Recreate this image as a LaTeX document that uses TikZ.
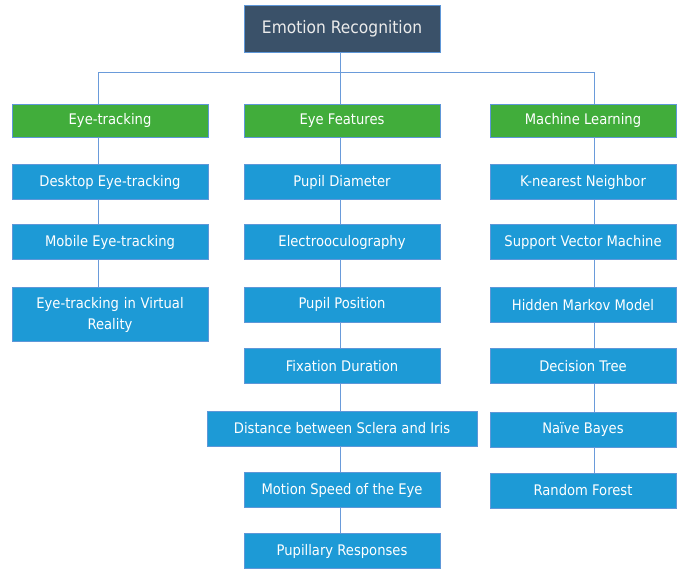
\documentclass[tikz,border=0pt]{standalone}
\usepackage{fontspec}
\setmainfont[FakeStretch=0.9]{DejaVu Sans}
\definecolor{titlefill}{HTML}{3A5169}
\definecolor{greenfill}{HTML}{41AD3B}
\definecolor{bluefill}{HTML}{1D9AD6}
\definecolor{edgeblue}{HTML}{5E97D8}
\definecolor{linkblue}{HTML}{6A9BDA}
\begin{document}
\begin{tikzpicture}[x=1pt,y=-1pt,
  box/.style={draw=edgeblue,line width=0.8pt,inner sep=0pt,text=white,align=center,font=\fontsize{14.6}{21}\selectfont},
  titlebox/.style={box,fill=titlefill,minimum width=196pt,minimum height=47pt,font=\fontsize{17.2}{20}\selectfont,text=white!92!black},
  greenbox/.style={box,fill=greenfill,minimum height=33pt},
  bluebox/.style={box,fill=bluefill,minimum height=35pt},
  link/.style={draw=linkblue,line width=0.9pt}]
\useasboundingbox (0,0) rectangle (677,571);
% title
\node[titlebox] (root) at (342,28.5) {Emotion Recognition};
% headers
\node[greenbox,minimum width=196pt] (h1) at (110,120.5) {Eye-tracking};
\node[greenbox,minimum width=196pt] (h2) at (342,120.5) {Eye Features};
\node[greenbox,minimum width=186pt] (h3) at (583,120.5) {Machine Learning};
% column 1
\node[bluebox,minimum width=196pt] (a1) at (110,182) {Desktop Eye-tracking};
\node[bluebox,minimum width=196pt] (a2) at (110,242) {Mobile Eye-tracking};
\node[bluebox,minimum width=196pt,minimum height=54pt,text width=190pt] (a3) at (110,314.5) {Eye-tracking in Virtual\\Reality};
% column 2
\node[bluebox,minimum width=196pt] (b1) at (342,182) {Pupil Diameter};
\node[bluebox,minimum width=196pt] (b2) at (342,242) {Electrooculography};
\node[bluebox,minimum width=196pt] (b3) at (342,304.5) {Pupil Position};
\node[bluebox,minimum width=196pt] (b4) at (342,366) {Fixation Duration};
\node[bluebox,minimum width=270pt] (b5) at (342,428.5) {Distance between Sclera and Iris};
\node[bluebox,minimum width=196pt] (b6) at (342,490) {Motion Speed of the Eye};
\node[bluebox,minimum width=196pt] (b7) at (342,551) {Pupillary Responses};
% column 3
\node[bluebox,minimum width=186pt] (c1) at (583,182) {K-nearest Neighbor};
\node[bluebox,minimum width=186pt] (c2) at (583,242) {Support Vector Machine};
\node[bluebox,minimum width=186pt] (c3) at (583,305) {Hidden Markov Model};
\node[bluebox,minimum width=186pt] (c4) at (583,366) {Decision Tree};
\node[bluebox,minimum width=186pt] (c5) at (583,429.5) {Naïve Bayes};
\node[bluebox,minimum width=186pt] (c6) at (583,490.5) {Random Forest};
% connector guides
\coordinate (bl) at (98,72);
\coordinate (bm) at (340,72);
\coordinate (br) at (594,72);
\path[link] (root.south -| bm) -- (bm);
\path[link] (bl) -- (br);
\path[link] (bl) -- (h1.north -| bl);
\path[link] (bm) -- (h2.north -| bm);
\path[link] (br) -- (h3.north -| br);
\path[link] (h1.south -| bl) -- (a1.north -| bl);
\path[link] (a1.south -| bl) -- (a2.north -| bl);
\path[link] (a2.south -| bl) -- (a3.north -| bl);
\path[link] (h2.south -| bm) -- (b1.north -| bm);
\path[link] (b1.south -| bm) -- (b2.north -| bm);
\path[link] (b2.south -| bm) -- (b3.north -| bm);
\path[link] (b3.south -| bm) -- (b4.north -| bm);
\path[link] (b4.south -| bm) -- (b5.north -| bm);
\path[link] (b5.south -| bm) -- (b6.north -| bm);
\path[link] (b6.south -| bm) -- (b7.north -| bm);
\path[link] (h3.south -| br) -- (c1.north -| br);
\path[link] (c1.south -| br) -- (c2.north -| br);
\path[link] (c2.south -| br) -- (c3.north -| br);
\path[link] (c3.south -| br) -- (c4.north -| br);
\path[link] (c4.south -| br) -- (c5.north -| br);
\path[link] (c5.south -| br) -- (c6.north -| br);
\end{tikzpicture}
\end{document}
